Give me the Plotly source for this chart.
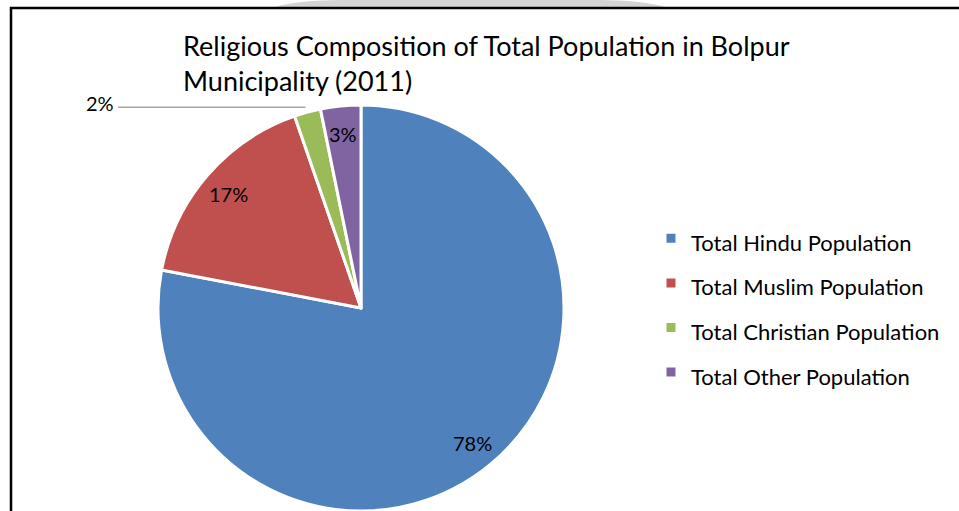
import math
import plotly.graph_objects as go

# ---- data ----
categories = ["Total Hindu Population", "Total Muslim Population",
              "Total Christian Population", "Total Other Population"]
shares = [78.0, 16.7, 2.1, 3.2]
colors = ["#4F81BD", "#C0504D", "#9BBB59", "#8064A2"]
title_text = "Religious Composition of Total Population in Bolpur<br>Municipality (2011)"

W, H = 959, 511
FONT = "Lato"
cx, cy, R = 361, 308, 203  # pie centre and radius in pixels

fig = go.Figure()
fig.add_trace(go.Pie(
    labels=[f'<span style="font-size:22px">{c}</span>' for c in categories],
    values=shares,
    sort=False,
    direction="clockwise",
    rotation=0,
    marker=dict(colors=colors, line=dict(color="white", width=3)),
    textinfo="none",
    hoverinfo="label+percent",
    domain=dict(x=[(cx - R) / W, (cx + R) / W], y=[0, (H - cy + R) / H]),
))

# ---- slice labels computed from data ----
total = sum(shares)
cum = 0
annotations = []
shapes = []
for i, v in enumerate(shares):
    mid = (cum + v / 2) / total * 2 * math.pi
    cum += v
    pct = f"{round(v / total * 100):d}%"
    if categories[i] == "Total Christian Population":
        ex = cx + R * math.sin(mid)
        ey = cy - R * math.cos(mid) - 5
        shapes.append(dict(type="line", xref="paper", yref="paper",
                           x0=118 / W, x1=(ex - 2) / W, y0=1 - ey / H, y1=1 - ey / H,
                           line=dict(color="#A6A6A6", width=1.5)))
        annotations.append(dict(x=116 / W, y=1 - (ey - 4) / H, xref="paper", yref="paper",
                                text=pct, showarrow=False, xanchor="right", yanchor="middle",
                                font=dict(family=FONT, size=20, color="black")))
    else:
        d = 0.86 * R
        lx = cx + d * math.sin(mid)
        ly = cy - d * math.cos(mid)
        annotations.append(dict(x=lx / W, y=1 - ly / H, xref="paper", yref="paper",
                                text=pct, showarrow=False, xanchor="center", yanchor="middle",
                                font=dict(family=FONT, size=20, color="black")))

# frame border
shapes.append(dict(type="rect", xref="paper", yref="paper",
                   x0=11 / W, x1=1.02, y0=-0.02, y1=1 - 8 / H,
                   line=dict(color="black", width=2.5), fillcolor="rgba(0,0,0,0)"))
# grey page shading above the frame
shapes.append(dict(type="path", xref="paper", yref="paper",
                   path=f"M {275/W},{1-7/H} Q {300/W},{1} {340/W},{1} L {600/W},{1} "
                        f"Q {640/W},{1} {665/W},{1-7/H} Z",
                   fillcolor="#D4D4D4", line=dict(width=0), layer="below"))

fig.update_layout(
    width=W, height=H,
    margin=dict(l=0, r=0, t=0, b=0),
    paper_bgcolor="white",
    plot_bgcolor="white",
    font=dict(family=FONT, color="black"),
    title=dict(text=title_text, x=183 / W, xanchor="left", xref="paper",
               y=1 - 56 / H, yanchor="top", yref="paper",
               font=dict(family=FONT, size=27, color="black")),
    showlegend=True,
    legend=dict(x=651 / W, y=1 - 211 / H, xanchor="left", yanchor="top",
                font=dict(family=FONT, size=32, color="black"),
                itemclick=False, itemdoubleclick=False),
    annotations=annotations,
    shapes=shapes,
)

fig.write_html("out.html", config={"displayModeBar": False},
               post_script="document.body.style.margin='0';")
